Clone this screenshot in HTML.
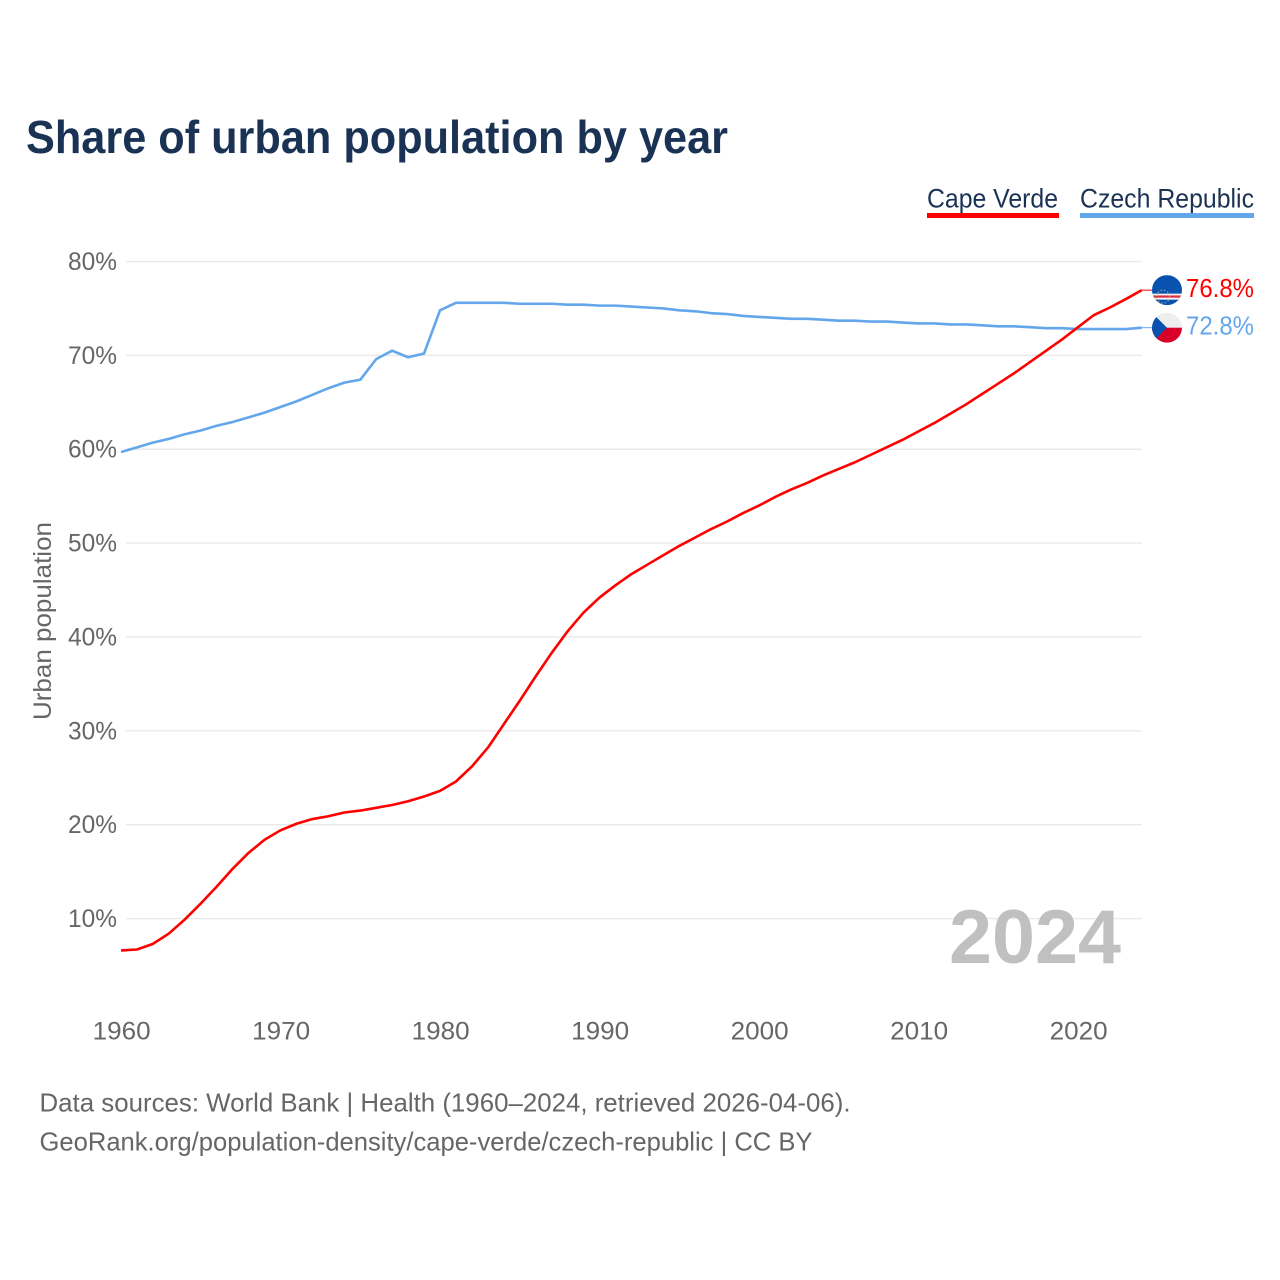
<!DOCTYPE html>
<html>
<head>
<meta charset="utf-8">
<title>Share of urban population by year</title>
<style>
html,body{margin:0;padding:0;background:#fff;width:1280px;height:1280px;overflow:hidden}
svg{display:block}
text{font-family:"Liberation Sans",sans-serif}
</style>
</head>
<body>
<svg id="chart" xmlns="http://www.w3.org/2000/svg" width="1280" height="1280" viewBox="0 0 1280 1280">
  <defs>
    <clipPath id="clip-cv"><circle cx="0" cy="0" r="15"/></clipPath>
    <clipPath id="clip-cz"><circle cx="0" cy="0" r="15"/></clipPath>
  </defs>
  <text x="26" y="153" font-size="46" font-weight="700" fill="#1a3355" textLength="702" lengthAdjust="spacingAndGlyphs">Share of urban population by year</text>

  <g>
    <text x="927" y="207.5" font-size="27" fill="#1a3355" textLength="131" lengthAdjust="spacingAndGlyphs">Cape Verde</text>
    <rect x="927" y="213" width="132" height="5" fill="#ff0000"/>
  </g>
  <g>
    <text x="1080" y="207.5" font-size="27" fill="#1a3355" textLength="174" lengthAdjust="spacingAndGlyphs">Czech Republic</text>
    <rect x="1080" y="213" width="174" height="5" fill="#64a6eb"/>
  </g>

  <g id="grid"></g>
  <g id="yticks"></g>
  <g id="xticks"></g>

  <text transform="translate(51,720) rotate(-90)" x="0" y="0" font-size="25" fill="#666666" textLength="198" lengthAdjust="spacingAndGlyphs">Urban population</text>
  <text x="949" y="963" font-size="76" font-weight="700" fill="#c0c0c0" textLength="172" lengthAdjust="spacingAndGlyphs">2024</text>

  <g id="series"></g>
  <g id="ends"></g>

  <text x="39.5" y="1111.5" font-size="26" fill="#666666" textLength="811" lengthAdjust="spacingAndGlyphs">Data sources: World Bank | Health (1960–2024, retrieved 2026-04-06).</text>
  <text x="39.5" y="1150.5" font-size="26" fill="#666666" textLength="773" lengthAdjust="spacingAndGlyphs">GeoRank.org/population-density/cape-verde/czech-republic | CC BY</text>
</svg>
<script>
const startYear = 1960;
const endYear = 2024;
const capeVerdeValues = [6.6,6.7,7.3,8.4,9.9,11.6,13.4,15.3,17.0,18.4,19.4,20.1,20.6,20.9,21.3,21.5,21.8,22.1,22.5,23.0,23.6,24.6,26.2,28.2,30.7,33.2,35.8,38.3,40.6,42.6,44.2,45.5,46.7,47.7,48.7,49.7,50.6,51.5,52.3,53.2,54.0,54.9,55.7,56.4,57.2,57.9,58.6,59.4,60.2,61.0,61.9,62.8,63.8,64.8,65.9,67.0,68.1,69.3,70.5,71.7,73.0,74.3,75.1,76.0,76.95];
const czechValues = [59.7,60.2,60.7,61.1,61.6,62.0,62.5,62.9,63.4,63.9,64.5,65.1,65.8,66.5,67.1,67.4,69.6,70.5,69.8,70.2,74.8,75.6,75.6,75.6,75.6,75.5,75.5,75.5,75.4,75.4,75.3,75.3,75.2,75.1,75.0,74.8,74.7,74.5,74.4,74.2,74.1,74.0,73.9,73.9,73.8,73.7,73.7,73.6,73.6,73.5,73.4,73.4,73.3,73.3,73.2,73.1,73.1,73.0,72.9,72.9,72.8,72.8,72.8,72.8,72.95];
const yTickValues = [10,20,30,40,50,60,70,80];
const yTickLabels = ['10%','20%','30%','40%','50%','60%','70%','80%'];
const xTickValues = [1960,1970,1980,1990,2000,2010,2020];
const xTickLabels = ['1960','1970','1980','1990','2000','2010','2020'];
const endLabels = ['76.8%','72.8%'];

const NS = 'http://www.w3.org/2000/svg';
const plotLeft = 121, plotRight = 1141.8, zeroY = 1012.4, pxPerUnit = 9.386;
function xScale(year){ return plotLeft + (year - startYear) * (plotRight - plotLeft) / (endYear - startYear); }
function yScale(v){ return zeroY - v * pxPerUnit; }
function make(tag, attrs, parent){
  const el = document.createElementNS(NS, tag);
  for (const k in attrs) el.setAttribute(k, attrs[k]);
  parent.appendChild(el);
  return el;
}
const grid = document.getElementById('grid');
const yticks = document.getElementById('yticks');
const xticks = document.getElementById('xticks');
const series = document.getElementById('series');
const ends = document.getElementById('ends');

yTickValues.forEach(function(v, i){
  const line = make('line', {x1: plotLeft + 5, x2: plotRight, y1: yScale(v), y2: yScale(v), stroke: '#e9e9e9', 'stroke-width': 1.4}, grid);
  
  
  const t = make('text', {x: 117, y: yScale(v) + 8.5, 'text-anchor': 'end', 'font-size': 25, fill: '#666666', textLength: 49, lengthAdjust: 'spacingAndGlyphs'}, yticks);
  t.textContent = yTickLabels[i];
  
  
});

xTickValues.forEach(function(v, i){
  const t = make('text', {x: xScale(v) + 0.7, y: 1039.5, 'text-anchor': 'middle', 'font-size': 25, fill: '#666666', textLength: 58, lengthAdjust: 'spacingAndGlyphs'}, xticks);
  t.textContent = xTickLabels[i];
  
  
});

function linePoints(values){
  return values.map(function(v, i){ return xScale(startYear + i).toFixed(2) + ',' + yScale(v).toFixed(2); }).join(' ');
}
const czechLine = make('polyline', {points: linePoints(czechValues), fill: 'none', stroke: '#64a6eb', 'stroke-width': 2.6, 'stroke-linejoin': 'round'}, series);


const capeLine = make('polyline', {points: linePoints(capeVerdeValues), fill: 'none', stroke: '#ff0000', 'stroke-width': 2.6, 'stroke-linejoin': 'round'}, series);



function endMarker(values, label, color, clipId, drawFlag){
  const last = yScale(values[values.length - 1]);
  const conn = make('line', {x1: plotRight, x2: 1152, y1: last, y2: last, stroke: color, 'stroke-width': 1}, ends);
  
  
  const g = make('g', {transform: 'translate(1167,' + last + ')', 'clip-path': 'url(#' + clipId + ')'}, ends);
  
  
  drawFlag(g);
  const t = make('text', {x: 1186, y: last + 7, 'font-size': 25.5, fill: color, textLength: 68, lengthAdjust: 'spacingAndGlyphs'}, ends);
  t.textContent = label;
  
  
}
endMarker(capeVerdeValues, endLabels[0], '#ff0000', 'clip-cv', function(g){
  make('rect', {x: -15, y: -15, width: 30, height: 30, fill: '#0a52b0'}, g);
  make('rect', {x: -15, y: 3.5, width: 30, height: 6, fill: '#f2f2f2'}, g);
  make('rect', {x: -15, y: 5.3, width: 30, height: 2.2, fill: '#d3313f'}, g);
  make('circle', {cx: -4, cy: 6.5, r: 6.5, fill: 'none', stroke: '#d8c878', 'stroke-width': 1, 'stroke-dasharray': '1.5 2', opacity: 0.8}, g);
});
endMarker(czechValues, endLabels[1], '#64a6eb', 'clip-cz', function(g){
  make('rect', {x: -15, y: -15, width: 30, height: 15, fill: '#eeeeee'}, g);
  make('rect', {x: -15, y: 0, width: 30, height: 15, fill: '#d80027'}, g);
  make('polygon', {points: '-15,-15 0,0 -15,15', fill: '#0a52b0'}, g);
});
</script>
</body>
</html>
